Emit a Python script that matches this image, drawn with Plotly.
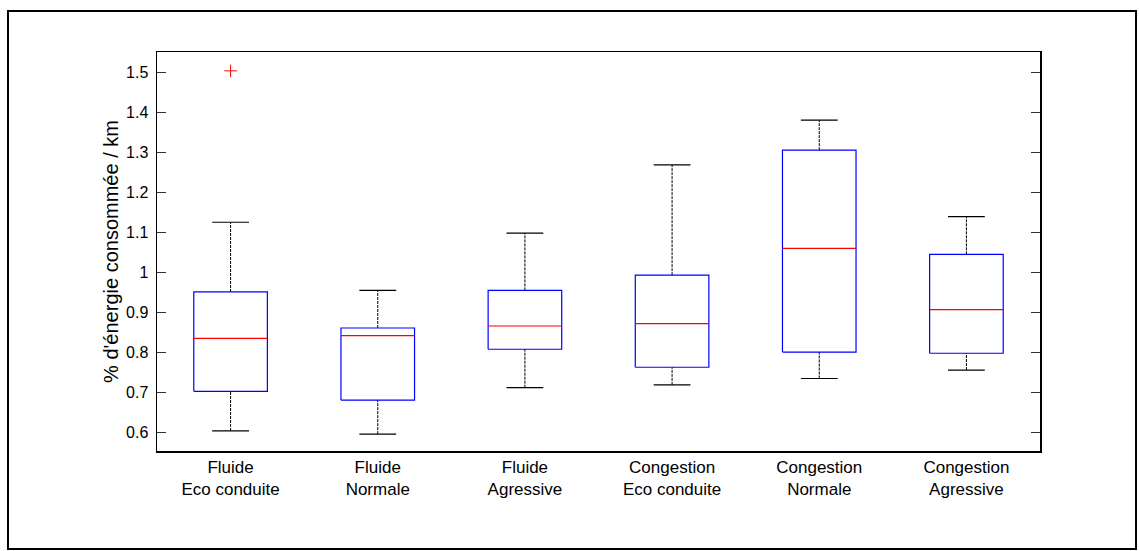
import plotly.graph_objects as go

categories = ["Fluide<br>Eco conduite", "Fluide<br>Normale", "Fluide<br>Agressive",
              "Congestion<br>Eco conduite", "Congestion<br>Normale", "Congestion<br>Agressive"]
lower_whisker = [0.604, 0.596, 0.712, 0.719, 0.735, 0.756]
q1 = [0.703, 0.681, 0.808, 0.763, 0.801, 0.798]
median = [0.835, 0.842, 0.866, 0.872, 1.060, 0.907]
q3 = [0.951, 0.861, 0.955, 0.993, 1.305, 1.045]
upper_whisker = [1.125, 0.955, 1.098, 1.268, 1.380, 1.139]
outlier_group = [1]
outlier_value = [1.503]

HW = 0.25   # half box width
CW = 0.125  # half cap width
pos = list(range(1, len(categories) + 1))

bx, by, mx, my, wx, wy, cx, cy = [], [], [], [], [], [], [], []
for p, lo, a, m, b, hi in zip(pos, lower_whisker, q1, median, q3, upper_whisker):
    bx += [p - HW, p + HW, p + HW, p - HW, p - HW, None]
    by += [a, a, b, b, a, None]
    mx += [p - HW, p + HW, None]
    my += [m, m, None]
    wx += [p, p, None, p, p, None]
    wy += [b, hi, None, lo, a, None]
    cx += [p - CW, p + CW, None, p - CW, p + CW, None]
    cy += [hi, hi, None, lo, lo, None]

fig = go.Figure()
fig.add_trace(go.Scatter(x=wx, y=wy, mode="lines",
                         line=dict(color="#000000", width=1, dash="3px,1px"), hoverinfo="skip"))
fig.add_trace(go.Scatter(x=cx, y=cy, mode="lines",
                         line=dict(color="#000000", width=1.2), hoverinfo="skip"))
fig.add_trace(go.Scatter(x=bx, y=by, mode="lines",
                         line=dict(color="#0000FF", width=1.2), hoverinfo="skip"))
fig.add_trace(go.Scatter(x=mx, y=my, mode="lines",
                         line=dict(color="#FF0000", width=1.2), hoverinfo="skip"))
fig.add_trace(go.Scatter(x=outlier_group, y=outlier_value, mode="markers",
                         marker=dict(symbol="cross-thin", size=9,
                                     line=dict(color="#FF0000", width=1)), hoverinfo="skip"))

L, R, T, B = 157, 1040, 52, 451
W, H = 1139, 551
pw, ph = R - L, B - T

fig.update_layout(
    width=W, height=H,
    margin=dict(l=L, r=W - R, t=T, b=H - B, pad=0),
    paper_bgcolor="white", plot_bgcolor="white",
    showlegend=False,
    font=dict(family="Liberation Sans, Arial, sans-serif", color="#000000"),
    xaxis=dict(range=[0.5, 6.5], tickvals=pos, ticktext=categories,
               showgrid=False, zeroline=False, showline=True, mirror=True,
               linecolor="#000000", linewidth=1.5, ticks="",
               tickfont=dict(size=17)),
    yaxis=dict(range=[0.554, 1.55], tickvals=[0.6, 0.7, 0.8, 0.9, 1.0, 1.1, 1.2, 1.3, 1.4, 1.5],
               ticktext=["0.6", "0.7", "0.8", "0.9", "1", "1.1", "1.2", "1.3", "1.4", "1.5"],
               showgrid=False, zeroline=False, showline=True, mirror="ticks",
               linecolor="#000000", linewidth=1.5, ticks="inside", ticklen=9,
               tickcolor="#333333", tickwidth=1,
               tickfont=dict(size=16), ticklabelstandoff=4,
               title=dict(text="% d'énergie consommée / km", font=dict(size=20), standoff=2)),
    shapes=[dict(type="rect", xref="paper", yref="paper",
                 x0=(8 - L) / pw, x1=(1136 - L) / pw,
                 y0=(B - 549) / ph, y1=(B - 11) / ph,
                 line=dict(color="#000000", width=2), layer="below")],
)

fig.write_html("out.html",
               config={"displayModeBar": False, "staticPlot": True},
               post_script="document.body.style.margin='0px';document.body.style.overflow='hidden';")
